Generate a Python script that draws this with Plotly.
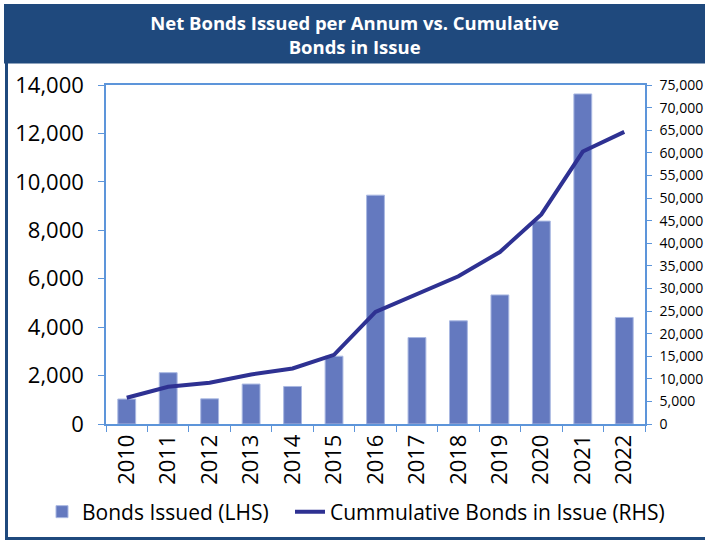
import plotly.graph_objects as go

years = ["2010", "2011", "2012", "2013", "2014", "2015", "2016",
         "2017", "2018", "2019", "2020", "2021", "2022"]
bonds_issued = [1030, 2120, 1040, 1650, 1550, 2800, 9450,
                3570, 4260, 5330, 8380, 13630, 4400]
cumulative = [5800, 8250, 9130, 10970, 12290, 15300, 24800,
              28630, 32680, 38050, 46370, 60280, 64620]

W, H = 705, 541
L, R, T, B = 106, 645, 85, 424
pw, ph = R - L, B - T

def px(x):
    return (x - L) / pw

def py(y):
    return (B - y) / ph

NAVY = "#1F497D"
AXIS = "#5D95DA"
FONT = "Open Sans"

fig = go.Figure()
fig.add_trace(go.Bar(
    x=years, y=bonds_issued, name="Bonds Issued (LHS)",
    marker=dict(color="#6479BF", line=dict(color="#A9B8E2", width=1)),
    yaxis="y", legend="legend",
))
fig.add_trace(go.Scatter(
    x=years, y=cumulative, name="Cummulative Bonds in Issue (RHS)",
    mode="lines", line=dict(color="#2E3192", width=4),
    yaxis="y2", legend="legend2",
))

leg_common = dict(
    orientation="h", xanchor="left", yanchor="middle",
    y=py(512), font=dict(size=21, color="black"),
    bgcolor="rgba(0,0,0,0)",
)

fig.update_layout(
    width=W, height=H,
    margin=dict(l=L, r=W - R, t=T, b=H - B, autoexpand=False),
    paper_bgcolor="white", plot_bgcolor="white",
    font=dict(family=FONT, color="black"),
    bargap=0.57,
    showlegend=True,
    title=dict(
        text="Net Bonds Issued per Annum vs. Cumulative<br>Bonds in Issue",
        x=0.503, xanchor="center", xref="container",
        y=1 - 29.5 / H, yanchor="middle", yref="container",
        font=dict(family=FONT, size=18.5, color="white", weight="bold"),
    ),
    xaxis=dict(
        type="category", tickangle=-90,
        tickfont=dict(size=22, color="black"),
        showline=True, linecolor=AXIS, linewidth=1.5, mirror=True,
        ticks="outside", tickson="boundaries", ticklen=6, tickcolor=AXIS,
        showgrid=False, zeroline=False, ticklabelstandoff=0,
    ),
    yaxis=dict(
        range=[0, 14000], dtick=2000, tickformat=",d",
        tickfont=dict(size=22, color="black"),
        showline=True, linecolor=AXIS, linewidth=1.5,
        ticks="outside", ticklen=6, tickcolor=AXIS,
        showgrid=False, zeroline=False, ticklabelstandoff=10,
    ),
    yaxis2=dict(
        range=[0, 75000], dtick=5000, tickformat=",d",
        overlaying="y", side="right",
        tickfont=dict(size=14, color="black"),
        showline=True, linecolor=AXIS, linewidth=1.5,
        ticks="outside", ticklen=5, tickcolor=AXIS,
        showgrid=False, zeroline=False, ticklabelstandoff=5,
    ),
    legend=dict(x=px(42), **leg_common),
    legend2=dict(x=px(290), **leg_common),
    shapes=[
        dict(type="rect", xref="paper", yref="paper",
             x0=px(4), x1=px(706), y0=py(63.5), y1=py(4),
             fillcolor=NAVY, line=dict(width=0), layer="below"),
        dict(type="line", xref="paper", yref="paper",
             x0=px(6.5), x1=px(6.5), y0=py(4), y1=py(538.5),
             line=dict(color=NAVY, width=3)),
        dict(type="line", xref="paper", yref="paper",
             x0=px(5), x1=px(706), y0=py(538.5), y1=py(538.5),
             line=dict(color=NAVY, width=3)),
    ],
)

fig.write_html(
    "out.html",
    config={"displayModeBar": False},
    post_script="document.body.style.margin='0';document.body.style.overflow='hidden';",
)
